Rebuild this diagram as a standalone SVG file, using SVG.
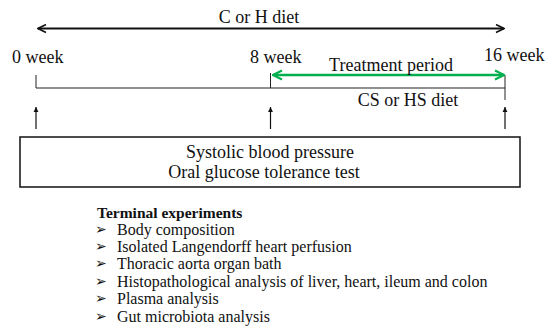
<svg xmlns="http://www.w3.org/2000/svg" width="550" height="335" viewBox="0 0 550 335">
<style>
text{font-family:"Liberation Serif","Times New Roman",serif;fill:#111;}
.lbl{font-size:18px;}
.lst{font-size:16px;}
.bul{font-family:"DejaVu Sans",sans-serif;font-size:14px;}
.thin{stroke:#222;stroke-width:1;fill:none;}
</style>
<defs>
<marker id="blk" viewBox="0 0 10 10" refX="9" refY="5" markerWidth="5" markerHeight="5" orient="auto-start-reverse" markerUnits="strokeWidth">
<path d="M1,1 L9,5 L1,9" fill="none" stroke="#111" stroke-width="1.6"/>
</marker>
<marker id="grn" viewBox="0 0 10 10" refX="9" refY="5" markerWidth="4.5" markerHeight="4.5" orient="auto-start-reverse" markerUnits="strokeWidth">
<path d="M1,1 L9,5 L1,9" fill="none" stroke="#00b050" stroke-width="1.8"/>
</marker>
<marker id="up" viewBox="0 0 10 10" refX="9" refY="5" markerWidth="7" markerHeight="7" orient="auto" markerUnits="userSpaceOnUse">
<path d="M2,1.5 L9,5 L2,8.5 Z" fill="#111"/>
</marker>
</defs>
<g id="connectors">
<line x1="38" y1="28.5" x2="504" y2="28.5" stroke="#111" stroke-width="2" marker-start="url(#blk)" marker-end="url(#blk)"/>
<line x1="36" y1="88" x2="505" y2="88" class="thin"/>
<line x1="36" y1="75" x2="36" y2="88" class="thin"/>
<line x1="270.5" y1="73" x2="270.5" y2="88" class="thin"/>
<line x1="505" y1="75" x2="505" y2="100" class="thin"/>
<line x1="273" y1="75" x2="504" y2="75" stroke="#00b050" stroke-width="2.5" marker-start="url(#grn)" marker-end="url(#grn)"/>
<line x1="36" y1="129" x2="36" y2="107" stroke="#111" stroke-width="1.2" marker-end="url(#up)"/>
<line x1="270.5" y1="129" x2="270.5" y2="107" stroke="#111" stroke-width="1.2" marker-end="url(#up)"/>
<line x1="505" y1="129" x2="505" y2="107" stroke="#111" stroke-width="1.2" marker-end="url(#up)"/>
</g>
<g id="labels">
<text class="lbl" x="259" y="23" text-anchor="middle">C or H diet</text>
<text class="lbl" x="12" y="63">0 week</text>
<text class="lbl" x="250" y="63">8 week</text>
<text class="lbl" x="484" y="61">16 week</text>
<text class="lbl" x="391" y="71" text-anchor="middle">Treatment period</text>
<text class="lbl" x="408" y="106" text-anchor="middle">CS or HS diet</text>
</g>
<g id="measurements">
<rect x="20" y="137" width="500" height="50" fill="#fff" stroke="#111" stroke-width="1.5"/>
<text class="lbl" x="270" y="158" text-anchor="middle">Systolic blood pressure</text>
<text class="lbl" x="264" y="178" text-anchor="middle">Oral glucose tolerance test</text>
</g>
<g id="terminal">
<text x="97" y="218" font-size="15.5" font-weight="bold">Terminal experiments</text>
<text class="bul" x="95" y="234">➢</text><text class="lst" x="117" y="235">Body composition</text>
<text class="bul" x="95" y="251">➢</text><text class="lst" x="117" y="252">Isolated Langendorff heart perfusion</text>
<text class="bul" x="95" y="268">➢</text><text class="lst" x="117" y="269">Thoracic aorta organ bath</text>
<text class="bul" x="95" y="286">➢</text><text class="lst" x="117" y="287">Histopathological analysis of liver, heart, ileum and colon</text>
<text class="bul" x="95" y="303">➢</text><text class="lst" x="117" y="304">Plasma analysis</text>
<text class="bul" x="95" y="321">➢</text><text class="lst" x="117" y="322">Gut microbiota analysis</text>
</g>
</svg>
